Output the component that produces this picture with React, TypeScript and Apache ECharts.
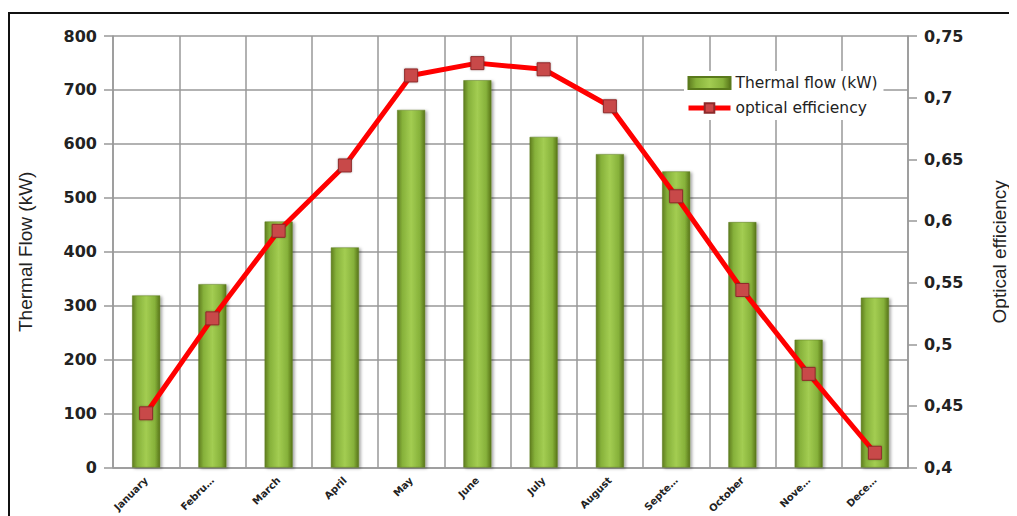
import React, { useEffect, useRef } from 'react';
import * as echarts from 'echarts';

const months = [
  'January', 'February', 'March', 'April', 'May', 'June',
  'July', 'August', 'September', 'October', 'November', 'December',
];
const monthLabels = [
  'January', 'Febru…', 'March', 'April', 'May', 'June',
  'July', 'August', 'Septe…', 'October', 'Nove…', 'Dece…',
];
const thermalFlow = [319, 340, 456, 408, 663, 718, 613, 581, 549, 455, 237, 315];
const opticalEfficiency = [0.444, 0.521, 0.592, 0.645, 0.718, 0.728, 0.723, 0.693, 0.62, 0.544, 0.476, 0.412];

const barFill = new echarts.graphic.LinearGradient(0, 0, 1, 0, [
  { offset: 0, color: '#5f7d1f' },
  { offset: 0.18, color: '#86b13a' },
  { offset: 0.5, color: '#a3cd52' },
  { offset: 0.82, color: '#86b13a' },
  { offset: 1, color: '#587519' },
]);

const App: React.FC = () => {
  const chartRef = useRef<HTMLDivElement>(null);

  useEffect(() => {
    if (!chartRef.current) return;
    const chart = echarts.init(chartRef.current, null, { renderer: 'svg' });

    const option: echarts.EChartsOption = {
      animation: false,
      graphic: [
        {
          type: 'rect',
          shape: { x: 1, y: 5, width: 1200, height: 700 },
          style: { fill: 'none', stroke: '#111', lineWidth: 2 },
          z: -1,
        },
      ],
      legend: {
        orient: 'vertical',
        left: 676,
        top: 63,
        backgroundColor: '#fff',
        padding: [4, 6, 4, 2],
        itemWidth: 42,
        itemHeight: 12,
        itemGap: 9,
        textStyle: { fontFamily: 'DejaVu Sans', fontSize: 15.5, color: '#222' },
        data: [
          { name: 'Thermal flow (kW)', icon: 'rect' },
          { name: 'optical efficiency', lineStyle: { width: 5, color: '#ff0000' } },
        ],
      },
      grid: { left: 102, right: 105, top: 28, bottom: 48 },
      xAxis: {
        type: 'category',
        data: months,
        axisLine: { lineStyle: { color: '#999', width: 1.5 } },
        axisTick: { show: false },
        splitLine: { show: true, lineStyle: { color: '#999', width: 1.5 } },
        axisLabel: {
          rotate: 45,
          interval: 0,
          margin: 11,
          fontFamily: 'DejaVu Sans',
          fontWeight: 'bold',
          fontSize: 10,
          color: '#222',
          formatter: (_v: string, i: number) => monthLabels[i],
        },
      },
      yAxis: [
        {
          type: 'value',
          min: 0,
          max: 800,
          interval: 100,
          name: 'Thermal Flow (kW)',
          nameLocation: 'middle',
          nameGap: 78,
          nameTextStyle: { fontFamily: 'Liberation Sans Narrow, Liberation Sans', fontSize: 19, color: '#222' },
          axisLine: { show: true, lineStyle: { color: '#999', width: 1.5 } },
          axisTick: { show: true, length: 9, lineStyle: { color: '#999', width: 1.5 } },
          splitLine: { lineStyle: { color: '#999', width: 1.5 } },
          axisLabel: {
            margin: 16,
            fontFamily: 'DejaVu Sans',
            fontWeight: 'bold',
            fontSize: 16,
            color: '#222',
          },
        },
        {
          type: 'value',
          min: 0.4,
          max: 0.75,
          interval: 0.05,
          name: 'Optical efficiency',
          nameLocation: 'middle',
          nameGap: 82,
          nameRotate: 90,
          nameTextStyle: { fontFamily: 'Liberation Sans Narrow, Liberation Sans', fontSize: 19, color: '#222' },
          axisLine: { show: true, lineStyle: { color: '#999', width: 1.5 } },
          axisTick: { show: true, length: 9, lineStyle: { color: '#999', width: 1.5 } },
          splitLine: { show: false },
          axisLabel: {
            margin: 16,
            fontFamily: 'DejaVu Sans',
            fontWeight: 'bold',
            fontSize: 16,
            color: '#222',
            formatter: (v: number) => String(+v.toFixed(2)).replace('.', ','),
          },
        },
      ],
      series: [
        {
          name: 'Thermal flow (kW)',
          type: 'bar',
          yAxisIndex: 0,
          barWidth: 28,
          data: thermalFlow,
          itemStyle: {
            color: barFill,
            borderColor: '#5a7a1c',
            borderWidth: 0.5,
            shadowColor: 'rgba(0,0,0,0.35)',
            shadowBlur: 3,
            shadowOffsetX: 2,
            shadowOffsetY: 1,
          },
        },
        {
          name: 'optical efficiency',
          type: 'line',
          yAxisIndex: 1,
          data: opticalEfficiency,
          symbol: 'rect',
          symbolSize: 13,
          lineStyle: { color: '#ff0000', width: 5 },
          itemStyle: {
            color: '#c8484a',
            borderColor: '#8e2a2a',
            borderWidth: 1,
            shadowColor: 'rgba(0,0,0,0.3)',
            shadowBlur: 2,
          },
          z: 5,
        },
      ],
    };

    chart.setOption(option);
    return () => {
      chart.dispose();
    };
  }, []);

  return <div ref={chartRef} style={{ width: 1009, height: 508 }} />;
};

export default App;
